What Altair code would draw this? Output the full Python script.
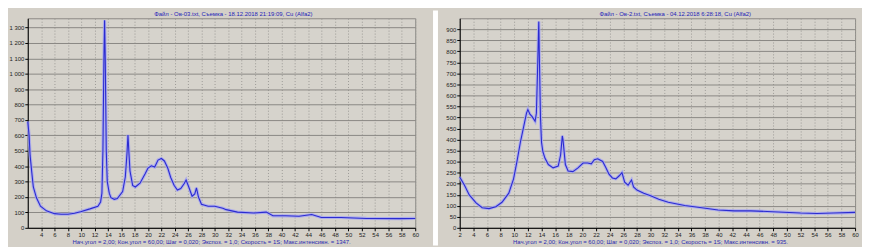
import altair as alt
import pandas as pd

# ---- data ----
left_x = [2.0, 2.2, 2.35, 2.6, 2.83, 3.3, 3.9, 4.8, 6.0, 7.0, 8.0, 9.0, 9.9, 11.3, 12.5, 12.9, 13.1, 13.25,
          13.4, 13.5, 13.6, 13.75, 13.9, 14.2, 14.45, 14.95, 15.4, 16.2, 16.6, 16.85, 17.0, 17.15, 17.3, 17.7,
          18.1, 18.8, 19.55, 20.0, 20.5, 21.0, 21.5, 22.0, 22.45, 22.95, 23.4, 23.9, 24.4, 24.9, 25.4, 25.7,
          26.1, 26.6, 27.0, 27.25, 27.55, 28.0, 29.0, 30.0, 31.2, 31.7, 33.4, 35.8, 37.7, 38.7, 40.6, 42.6,
          44.5, 45.95, 48.9, 52.7, 57.6, 60.0]
left_y = [690, 600, 470, 360, 265, 195, 140, 110, 92, 88, 88, 95, 105, 123, 140, 168, 225, 500,
          1100, 1347, 1100, 500, 300, 225, 196, 185, 190, 235, 330, 480, 603, 480, 370, 275,
          265, 290, 350, 388, 403, 395, 440, 450, 434, 388, 327, 276, 245, 255, 286, 310,
          265, 205, 220, 260, 200, 153, 140, 140, 127, 118, 102, 96, 102, 78, 78, 75,
          86, 67, 67, 61, 60, 61]

right_x = [2.0, 2.7, 3.4, 4.4, 5.3, 6.3, 7.3, 8.2, 9.2, 9.9, 10.4, 10.9, 11.4, 11.8, 12.0, 12.3, 12.6,
           13.06, 13.25, 13.45, 13.6, 13.7, 13.85, 14.0, 14.2, 14.5, 15.0, 15.7, 16.45, 16.8, 17.05, 17.15,
           17.5, 17.9, 18.6, 19.35, 20.1, 20.75, 21.3, 21.75, 22.25, 22.97, 23.45, 23.9, 24.4, 24.9, 25.4,
           25.8, 26.2, 26.7, 27.2, 27.5, 28.0, 29.0, 30.0, 31.2, 32.6, 35.0, 37.5, 39.9, 42.3, 44.7, 47.1,
           49.5, 52.0, 54.4, 56.8, 60.0]
right_y = [230, 193, 149, 113, 91, 87, 96, 116, 157, 222, 301, 388, 461, 520, 536, 515, 505,
           483, 520, 750, 935, 750, 500, 388, 345, 316, 287, 272, 280, 330, 417, 400,
           287, 258, 255, 272, 294, 294, 290, 309, 313, 301, 272, 243, 226, 222, 236,
           250, 207, 193, 217, 185, 171, 157, 145, 130, 116, 101, 91, 81, 77, 77, 74,
           71, 67, 65, 67, 70]

left_title = "Файл - Ов-03.txt,  Съемка - 18.12.2018 21:19:09,  Cu (Alfa2)"
right_title = "Файл - Ов-2.txt,  Съемка - 04.12.2018 6:28:18,  Cu (Alfa2)"
left_info = "Нач.угол = 2,00;  Кон.угол = 60,00;  Шаг = 0,020;  Экспоз. = 1,0;  Скорость = 1S;  Макс.интенсивн. = 1347."
right_info = "Нач.угол = 2,00;  Кон.угол = 60,00;  Шаг = 0,020;  Экспоз. = 1,0;  Скорость = 1S;  Макс.интенсивн. = 935."

x_ticks_left = list(range(4, 61, 2))
x_ticks_right = list(range(2, 61, 2))
y_ticks_left = list(range(0, 1301, 100))
y_ticks_right = list(range(0, 901, 50))

FONT = "Liberation Sans"
H = 212


def panel(xs, ys, w, ymax, yticks, xticks, title, info, title_dx, info_dx, label_expr, gap):
    df = pd.DataFrame({"angle": xs, "intensity": ys})
    xenc = alt.X("angle:Q", scale=alt.Scale(domain=[2, 60], nice=False, zero=False),
                 axis=alt.Axis(values=xticks, title=None, format="d", grid=True, gridColor="#9c9a96",
                               gridDash=[1, 2], gridWidth=1, labelFontSize=6, labelFont=FONT,
                               tickSize=3, labelPadding=1, domainColor="#000000", tickColor="#000000",
                               labelColor="#222222", labelFlush=False))
    yaxis = dict(values=yticks, title=None, grid=True, gridColor="#8a8884", gridWidth=1,
                 labelFontSize=6, labelFont=FONT, tickSize=3, labelPadding=1,
                 domainColor="#000000", tickColor="#000000", labelColor="#222222")
    if label_expr:
        yaxis["labelExpr"] = label_expr
    yenc = alt.Y("intensity:Q", scale=alt.Scale(domain=[0, ymax], nice=False), axis=alt.Axis(**yaxis))
    base = alt.Chart(df)
    halo = base.mark_line(color="#a6a6f0", strokeWidth=3.2, opacity=0.85).encode(x=xenc, y=yenc)
    core = base.mark_line(color="#2b2bd0", strokeWidth=1.1).encode(x=xenc, y=yenc)
    t = alt.Chart(pd.DataFrame({"t": [title]})).mark_text(
        fontSize=6, font=FONT, color="#2323b8", baseline="bottom", align="center"
    ).encode(x=alt.value(w / 2 + title_dx), y=alt.value(-1), text="t:N")
    inf = alt.Chart(pd.DataFrame({"t": [info]})).mark_text(
        fontSize=6, font=FONT, color="#2a2ab0", baseline="bottom", align="center"
    ).encode(x=alt.value(w / 2 + info_dx), y=alt.value(H + 17), text="t:N")
    layers = []
    if gap:
        layers.append(alt.Chart(pd.DataFrame({"a": [0]})).mark_rect(color="white").encode(
            x=alt.value(w + 18), x2=alt.value(w + 23), y=alt.value(-8), y2=alt.value(H + 18)))
    layers += [halo, core, t, inf]
    return alt.layer(*layers).properties(width=w, height=H)


left = panel(left_x, left_y, 392, 1360, y_ticks_left, x_ticks_left, left_title, left_info,
             12, -10, "replace(format(datum.value, ','), ',', ' ')", True)
right = panel(right_x, right_y, 400, 950, y_ticks_right, x_ticks_right, right_title, right_info,
              18, -7, None, False)

chart = alt.hconcat(left, right, spacing=6).properties(
    background="#d4d0c8", padding=0
).configure_view(fill="#d6d3cc", stroke="#8c8a86", strokeWidth=1)

chart.save("out.html", embed_options={"renderer": "svg", "actions": False})
